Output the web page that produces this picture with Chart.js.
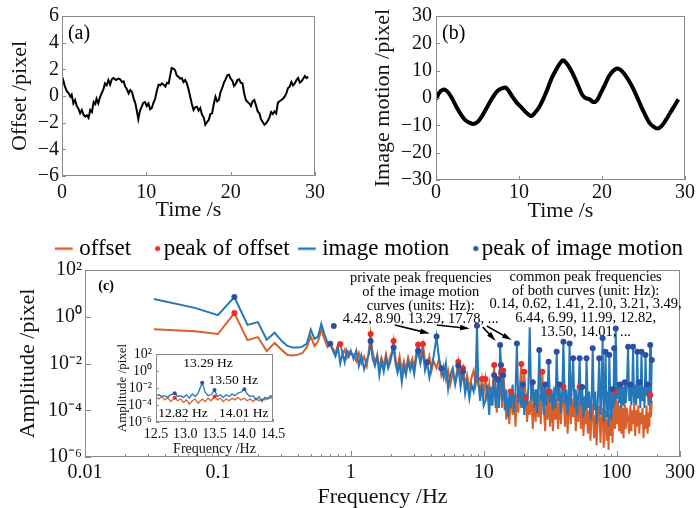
<!DOCTYPE html>
<html>
<head>
<meta charset="utf-8">
<title>Offset / image motion spectra</title>
<script src="https://cdn.jsdelivr.net/npm/chart.js@4.4.1/dist/chart.umd.min.js"></script>
<style>
  html, body { margin: 0; padding: 0; background: #fff; overflow: hidden; }
  #page { position: relative; width: 700px; height: 508px; }
  canvas { position: absolute; }
</style>
</head>
<body>
<div id="page">
  <canvas id="chartA" width="350" height="225" style="left:0;top:0"></canvas>
  <canvas id="chartB" width="350" height="225" style="left:350px;top:0"></canvas>
  <canvas id="chartC" width="700" height="296" style="left:0;top:212px"></canvas>
  <canvas id="chartInset" width="190" height="120" style="left:105px;top:340px"></canvas>
</div>
<script>
// (a) offset vs time
const timeA = [0, 0.15, 0.3, 0.45, 0.6, 0.8, 1.0, 1.15, 1.35, 1.55, 1.75, 1.95, 2.15, 2.35, 2.55, 2.75, 2.95,
  3.15, 3.35, 3.55, 3.75, 3.95, 4.1, 4.3, 4.5, 4.7, 4.9, 5.1, 5.3, 5.5, 5.7, 5.9, 6.1, 6.4, 6.7,
  6.9, 7.1, 7.3, 7.5, 7.7, 7.9, 8.1, 8.3, 8.5, 8.7, 8.9,
  9.05, 9.25, 9.45, 9.65, 9.85, 10.05, 10.25, 10.45, 10.65, 10.85, 11.05, 11.25, 11.45, 11.65, 11.85, 12.05, 12.25, 12.45, 12.65, 12.85,
  13.0, 13.2, 13.4, 13.6, 13.8, 14.0, 14.2, 14.4, 14.6, 14.8, 15.0, 15.2, 15.4, 15.6, 15.8, 16.0, 16.2, 16.4, 16.6, 16.8,
  17.0, 17.2, 17.4, 17.6, 17.8, 18.0, 18.2, 18.4, 18.6, 18.8, 19.0, 19.2, 19.4, 19.6, 19.8, 20.0, 20.2, 20.4, 20.6, 20.8,
  21.0, 21.2, 21.4, 21.6, 21.8, 22.0, 22.2, 22.4, 22.6, 22.8, 23.0, 23.2, 23.4, 23.6, 23.8, 24.0, 24.2, 24.4, 24.6, 24.8,
  25.0, 25.2, 25.4, 25.6, 25.8, 26.0, 26.2, 26.4, 26.6, 26.8, 27.0, 27.2, 27.4, 27.6, 27.8, 28.0, 28.2, 28.4, 28.6, 28.8, 29.0, 29.2];
const offsetA = [1.45, 1.2, 0.8, 0.55, 0.35, 0.2, -0.05, 0.1, -0.55, -0.3, -0.75, -0.95, -1.3, -1.05, -1.4, -1.55, -1.45,
  -1.65, -1.05, -1.2, -0.45, -0.6, -0.2, -0.55, -0.1, 0.2, 0.5, 0.95, 0.8, 1.2, 0.85, 1.25, 1.35, 1.2, 1.3,
  1.25, 1.05, 1.1, 0.7, 0.5, 0.2, 0.45, 0.3, -0.2, -0.55, -1.2,
  -1.75, -1.1, -0.8, -0.5, -0.45, -0.75, -0.55, -1.0, -0.9, -0.5, -0.2, 0.4, 0.85, 0.8, 0.95, 0.85, 0.7, 1.0, 0.95, 1.6,
  2.1, 2.05, 1.95, 1.55, 1.45, 1.3, 1.35, 1.05, 1.2, 0.95, 0.5, -0.05, -0.6, -1.05, -0.85, -0.8, -1.1, -0.9, -1.4, -1.6,
  -2.15, -1.95, -1.8, -1.35, -1.3, -0.6, -0.05, -0.4, -0.3, 0.3, 0.6, 1.0, 1.25, 1.55, 1.6, 1.3, 1.15, 0.75, 0.9, 1.2,
  1.25, 1.0, 0.95, 0.2, -0.3, -0.45, -0.55, -0.75, -0.4, -0.3, -0.7, -1.15, -1.3, -1.75, -1.95, -2.15, -2.05, -1.85, -1.6, -1.2,
  -1.35, -1.15, -1.3, -0.5, -0.4, -0.3, -0.2, -0.05, 0.2, 0.6, 0.7, 1.05, 0.8, 0.95, 1.2, 1.35, 1.0, 1.1, 1.3, 1.5, 1.35, 1.45];

// (b) image motion vs time
const timeB = [0.0, 0.4, 0.8, 1.2, 1.6, 2.0, 2.5, 3.0, 3.5, 4.0, 4.5, 5.0, 5.5, 6.0, 6.5, 7.0, 7.5, 8.0, 8.4, 8.8,
  9.2, 9.7, 10.2, 10.7, 11.2, 11.5, 11.9, 12.4, 12.9, 13.4, 13.9, 14.4, 14.9, 15.3, 15.7, 16.2, 16.7, 17.2, 17.6, 18.0,
  18.5, 19.0, 19.4, 19.8, 20.3, 20.8, 21.3, 21.8, 22.2, 22.7, 23.2, 23.7, 24.2, 24.7, 25.2, 25.7, 26.2, 26.7, 27.2, 27.7,
  28.2, 28.7, 29.2];
const motionB = [-0.5, 2.0, 3.0, 2.8, 1.5, -0.5, -3.5, -6.0, -8.0, -9.0, -9.5, -8.8, -6.8, -4.2, -1.5, 1.0, 2.8, 3.6, 3.8, 2.4,
  0.5, -1.6, -3.2, -4.8, -6.2, -6.6, -5.5, -3.5, -0.5, 3.0, 7.0, 10.0, 12.5, 13.8, 12.8, 10.5, 7.5, 4.0, 1.3, 0.0,
  -0.5, -1.5, -0.8, 1.5, 4.5, 7.8, 9.8, 10.8, 10.4, 8.8, 6.5, 3.8, 0.5, -3.0, -6.2, -9.0, -10.5, -11.2, -10.2, -8.0,
  -5.5, -3.0, -0.5];

// (c) amplitude spectra, amplitudes stored as log10(pixel)
const freqLow = [0.033, 0.067, 0.1, 0.133, 0.167, 0.2, 0.233, 0.267, 0.3, 0.333, 0.367, 0.4, 0.433, 0.467, 0.5,
  0.533, 0.567, 0.6, 0.633, 0.667, 0.7, 0.733, 0.767, 0.8, 0.833, 0.867, 0.9, 0.933, 0.967, 1.0];
const offsetLow = [-0.53, -0.62, -0.74, 0.16, -1.0, -0.87, -1.47, -1.12, -1.4, -1.64, -1.66, -1.62, -1.55, -1.3, -0.85,
  -1.25, -1.05, -0.55, -0.95, -1.3, -1.2, -1.35, -1.55, -1.2, -1.17, -1.6, -1.4, -1.75, -1.5, -1.6];
const motionLow = [0.76, 0.38, 0.07, 0.84, -0.35, -0.23, -0.98, -0.68, -1.02, -1.25, -1.32, -1.32, -1.28, -1.15, -0.55,
  -0.95, -0.85, -0.3, -0.75, -1.1, -1.15, -1.45, -1.7, -1.3, -2.0, -1.55, -1.95, -1.45, -1.7, -1.45];

const freqMid = [1.05, 1.1, 1.15, 1.2, 1.26, 1.32, 1.37, 1.41, 1.46, 1.52, 1.58, 1.64, 1.7, 1.77, 1.84, 1.91, 1.98, 2.04,
  2.1, 2.17, 2.25, 2.33, 2.42, 2.51, 2.6, 2.7, 2.8, 2.9, 3.0, 3.1, 3.21, 3.34, 3.49, 3.62, 3.75, 3.9, 4.05, 4.2, 4.42,
  4.6, 4.8, 5.0, 5.2, 5.4, 5.6, 5.85, 6.1, 6.3, 6.44, 6.7, 6.99, 7.25, 7.5, 7.8, 8.1, 8.4, 8.7, 8.9, 9.1, 9.4, 9.7, 10.0];
const offsetMid = [-1.6, -1.9, -1.55, -2.0, -1.7, -2.1, -1.4, -0.74, -1.5, -1.95, -1.7, -2.2, -1.75, -2.1, -1.6, -2.05, -1.7, -1.5,
  -1.04, -1.8, -2.2, -1.7, -2.3, -1.9, -2.25, -1.75, -2.1, -1.8, -2.2, -1.6, -1.2, -1.7, -1.17, -1.9, -2.1, -1.7, -2.3, -1.9, -2.2,
  -1.8, -2.5, -2.1, -2.7, -2.3, -2.9, -2.4, -2.8, -2.3, -1.94, -2.7, -2.2, -2.9, -2.5, -3.1, -2.6, -2.3, -2.9, -2.5, -2.9, -3.2, -2.66, -3.3];
const motionMid = [-1.8, -1.45, -2.1, -1.65, -2.25, -1.85, -1.6, -1.04, -1.8, -2.1, -1.65, -2.5, -1.9, -2.35, -1.75, -2.2, -1.95, -1.6,
  -1.32, -2.0, -2.4, -1.95, -2.8, -2.1, -2.5, -1.9, -2.3, -2.0, -2.45, -1.8, -1.45, -2.0, -1.5, -2.3, -1.95, -2.6, -2.1, -1.7, -0.85,
  -1.75, -2.2, -2.6, -2.0, -3.1, -2.5, -2.2, -2.9, -2.5, -2.1, -3.0, -2.35, -3.3, -2.8, -3.5, -2.9, -3.2, -2.6, -0.38, -2.7, -3.6, -2.9, -3.8];

const freqHigh = [10.3, 10.65, 11.0, 11.3, 11.65, 11.99, 12.3, 12.55, 12.82, 13.05, 13.29, 13.5, 13.75, 14.01, 14.4, 14.8,
  15.2, 15.6, 16.0, 16.5, 16.9, 17.35, 17.78, 18.2, 18.7, 19.2, 19.7, 20.2, 20.7, 21.2, 21.7, 22.2, 22.8, 23.4, 24.0, 24.6,
  25.2, 25.7, 26.2, 26.9, 27.6, 28.3, 29.0, 29.7, 30.2, 30.8, 31.6, 32.4, 33.2, 34.0, 34.7, 35.4, 36.3, 37.2, 38.1, 39.0,
  39.8, 40.8, 41.8, 42.8, 43.6, 44.3, 45.2, 46.1, 47.1, 48.2, 49.3, 50.4, 51.5, 52.7, 53.9, 55.1, 56.3, 57.6, 58.5, 59.4,
  60.8, 62.2, 63.6, 65.0, 66.1, 67.6, 69.1, 70.7, 72.3, 74.0, 75.6, 77.0, 78.5, 80.0, 81.3, 82.6, 84.2, 85.8, 87.0, 88.1,
  89.8, 91.5, 93.2, 94.6, 95.9, 97.2, 98.5, 100.4, 102.4, 104.4, 106.4, 108.5, 110.6, 112.8, 115.0, 117.2, 119.5, 122.0,
  124.4, 126.8, 129.2, 131.0, 133.0, 135.5, 138.0, 140.5, 143.0, 145.6, 148.2, 150.9, 154.0, 156.7, 159.5, 162.3, 165.0,
  168.0, 171.0, 174.0, 176.5, 179.0, 181.5, 184.0];
const offsetHigh = [-2.66, -3.4, -2.9, -3.8, -3.1, -2.06, -3.5, -4.1, -2.66, -3.6, -3.2, -2.4, -3.9, -2.3, -3.3, -4.4,
  -3.5, -4.6, -3.2, -4.2, -3.4, -4.7, -3.3, -4.1, -3.0, -2.02, -3.9, -2.35, -3.47, -4.5, -3.6, -4.2, -3.2, -4.8, -3.4, -4.5,
  -3.1, -4.3, -3.3, -4.6, -2.35, -3.8, -4.9, -3.5, -4.4, -3.2, -4.7, -3.6, -4.9, -3.3, -4.4, -3.5, -4.8, -3.4, -4.6, -3.6,
  -3.0, -4.7, -3.5, -5.0, -3.8, -3.4, -4.6, -3.5, -4.3, -3.6, -4.9, -3.7, -4.5, -3.0, -4.8, -3.7, -5.1, -3.9, -4.6, -3.6,
  -5.0, -4.0, -5.3, -4.1, -3.7, -5.2, -4.2, -5.5, -4.3, -3.8, -5.4, -4.4, -3.9, -5.6, -4.5, -4.0, -5.3, -4.4, -5.7, -4.1,
  -5.1, -4.2, -5.4, -3.9, -3.2, -4.8, -2.9, -4.6, -3.6, -4.9, -3.8, -5.0, -3.9, -5.2, -3.7, -4.8, -3.9, -4.4,
  -5.0, -3.8, -4.9, -4.0, -4.6, -3.7, -5.1, -4.0, -4.7, -3.8, -5.0, -4.1, -4.6, -3.9, -5.2, -4.2, -4.8,
  -3.8, -5.0, -4.1, -4.7, -3.35, -4.3, -3.6];
const motionHigh = [-3.6, -2.9, -4.2, -3.0, -3.8, -2.5, -3.9, -3.2, -2.7, -3.9, -1.21, -2.06, -3.6, -2.5, -4.0, -3.1,
  -4.3, -3.3, -3.9, -2.9, -4.1, -3.2, -1.14, -3.7, -3.0, -3.9, -2.9, -4.2, -3.3, -3.8, -3.0, -0.45, -3.6, -2.8, -3.9, -3.1,
  -4.1, -3.2, -1.42, -3.6, -3.0, -4.2, -2.9, -3.8, -3.3, -1.92, -3.7, -3.1, -4.0, -3.0, -3.9, -1.5, -3.6, -2.9, -4.1, -3.2,
  -1.07, -3.7, -3.1, -4.2, -3.3, -1.14, -3.8, -3.0, -1.78, -3.9, -3.1, -4.2, -3.3, -1.78, -3.8, -3.0, -4.3, -3.4, -4.0, -1.78,
  -3.9, -3.2, -4.4, -3.4, -1.35, -4.0, -3.2, -4.6, -3.5, -1.78, -4.2, -3.3, -0.92, -4.5, -3.4, -1.5, -4.3, -3.2, -4.7, -1.64,
  -3.6, -4.4, -3.1, -3.9, -1.35, -3.7, -0.5, -3.5, -2.8, -3.7, -2.9, -3.9, -3.0, -3.8, -2.8, -3.7, -3.0, -1.28,
  -3.6, -2.9, -3.8, -3.1, -1.28, -3.7, -2.9, -3.8, -1.5, -3.5, -2.8, -3.9, -1.5, -3.6, -3.0, -3.9, -1.64,
  -3.4, -2.9, -3.8, -3.1, -1.21, -3.7, -1.85];

const offsetPeakFreq = [0.133, 0.833, 1.41, 2.1, 3.21, 3.49, 6.44, 6.99, 9.7, 10.3, 11.99, 12.82, 13.5, 14.01, 16.0,
  19.2, 20.2, 20.7, 27.6, 30.8, 39.8, 52.7, 95.9, 179.0];
const offsetPeakAmp = [0.16, -1.17, -0.74, -1.04, -1.2, -1.17, -1.94, -2.2, -2.66, -2.66, -2.06, -2.66, -2.4, -2.3, -3.2,
  -2.02, -2.35, -3.47, -2.35, -3.2, -3.0, -3.0, -3.2, -3.35];
const motionPeakFreq = [0.133, 0.7, 0.745, 1.41, 2.1, 3.21, 3.75, 4.42, 4.8, 6.44, 6.99, 8.9, 11.99, 12.82, 13.29, 13.5,
  14.01, 17.78, 19.7, 23.4, 26.2, 29.0, 30.8, 35.4, 37.2, 39.8, 44.3, 47.1, 52.7, 55.1, 59.4, 66.1, 74.0, 78.5, 82.6,
  88.1, 93.2, 95.9, 98.5, 106.4, 115.0, 122.0, 126.8, 133.0, 143.0, 148.2, 154.0, 165.0, 171.0, 179.0, 184.0];
const motionPeakAmp = [0.84, -1.15, -0.4, -1.04, -1.32, -1.45, -1.95, -0.85, -2.2, -2.1, -2.35, -0.38, -2.5, -2.7, -1.21, -2.06,
  -2.5, -1.14, -2.9, -2.8, -1.42, -2.9, -1.92, -1.5, -2.9, -1.07, -1.14, -1.78, -1.78, -3.0, -1.78, -1.35, -1.78, -0.92, -1.5,
  -1.64, -3.1, -1.35, -0.5, -2.9, -2.8, -1.28, -2.9, -1.28, -1.5, -2.8, -1.5, -1.64, -2.9, -1.21, -1.85];

const specTicks = [0.01, 0.02, 0.03, 0.04, 0.05, 0.06, 0.07, 0.08, 0.09, 0.1, 0.2, 0.3, 0.4, 0.5, 0.6, 0.7, 0.8, 0.9,
  1, 2, 3, 4, 5, 6, 7, 8, 9, 10, 20, 30, 40, 50, 60, 70, 80, 90, 100, 200, 300];
const specTickLabels = [0.01, 0.1, 1, 10, 100, 300];
const ampTicks = [1e-6, 1e-4, 1e-2, 1, 1e2];
const ampTickText = ['10\u207B\u2076', '10\u207B\u2074', '10\u207B\u00B2', '10\u2070', '10\u00B2'];

// inset 12.5-14.5 Hz
const insetFreq = [12.5, 12.55, 12.6, 12.65, 12.7, 12.75, 12.82, 12.87, 12.92, 12.97, 13.02, 13.07, 13.12, 13.17, 13.22,
  13.29, 13.34, 13.39, 13.44, 13.5, 13.55, 13.6, 13.65, 13.7, 13.75, 13.8, 13.85, 13.9, 13.95, 14.01, 14.06, 14.11, 14.16,
  14.21, 14.26, 14.31, 14.36, 14.41, 14.46, 14.5];
const insetOffset = [-3.1, -3.3, -3.0, -3.4, -3.1, -3.6, -3.14, -3.5, -3.3, -3.7, -3.4, -3.9, -3.5, -3.3, -3.8,
  -3.3, -3.6, -3.2, -3.5, -3.0, -3.4, -3.2, -3.6, -3.3, -3.5, -3.2, -3.4, -3.1, -3.4, -3.2, -3.5, -3.3, -3.6,
  -3.2, -3.5, -3.3, -3.4, -3.1, -3.2, -3.0];
const insetMotion = [-2.9, -2.8, -3.0, -2.9, -3.1, -2.8, -2.62, -3.0, -2.9, -3.1, -2.8, -3.2, -2.7, -3.0, -2.6,
  -1.37, -2.5, -2.9, -2.8, -2.24, -3.0, -2.8, -3.1, -2.8, -3.0, -2.7, -2.9, -2.6, -2.5, -2.15, -2.7, -3.0, -2.9,
  -3.4, -3.0, -3.6, -3.1, -3.3, -2.9, -3.1];
const insetOffsetPeakFreq = [12.82, 13.5];
const insetOffsetPeakAmp = [-3.14, -3.0];
const insetMotionPeakFreq = [12.82, 13.29, 13.5, 14.01];
const insetMotionPeakAmp = [-2.62, -1.37, -2.24, -2.15];

const ORANGE = '#d9602b';
const BLUE = '#2677b8';
const RED = '#ec2b2b';
const NAVY = '#2c4fa6';
const SERIF = "'Liberation Serif', 'Times New Roman', serif";

Chart.defaults.font.family = SERIF;
Chart.defaults.color = '#111';

const pts = (xs, ys) => xs.map((x, i) => ({ x, y: ys[i] }));
const logPts = (xs, ls) => xs.map((x, i) => ({ x, y: Math.pow(10, ls[i]) }));
const minus = v => String(v).replace('-', '\u2212');

// pin the plot area so each panel lands where the figure has it
const fixY = (width, top) => s => { s.width = width; s.paddingTop = top; s.paddingBottom = 0; };
const fixX = (height, right) => s => { s.height = height; s.paddingRight = right; s.paddingLeft = 0; };

// grey box round the plot area plus short inward tick marks
const framePlugin = {
  id: 'frame',
  beforeDatasetsDraw(chart, args, opts) {
    if (!opts.fill) return;
    const { ctx, chartArea: a } = chart;
    ctx.save();
    ctx.fillStyle = opts.fill;
    ctx.fillRect(a.left, a.top, a.width, a.height);
    ctx.restore();
  },
  afterDatasetsDraw(chart, args, opts) {
    const { ctx, chartArea: a } = chart;
    ctx.save();
    ctx.strokeStyle = opts.color || '#888';
    ctx.lineWidth = 1;
    ['x', 'y'].forEach(id => {
      const s = chart.scales[id];
      s.ticks.forEach(t => {
        const p = Math.round(s.getPixelForValue(t.value)) + 0.5;
        const len = t.label ? opts.major : opts.minor;
        ctx.beginPath();
        if (id === 'x') { ctx.moveTo(p, a.bottom); ctx.lineTo(p, a.bottom - len); }
        else { ctx.moveTo(a.left, p); ctx.lineTo(a.left + len, p); }
        ctx.stroke();
      });
    });
    ctx.strokeRect(Math.round(a.left) + 0.5, Math.round(a.top) + 0.5, Math.round(a.width) - 1, Math.round(a.height) - 1);
    ctx.restore();
  }
};

// text and arrows placed in data coordinates
const notesPlugin = {
  id: 'notes',
  afterDatasetsDraw(chart, args, opts) {
    const { ctx } = chart;
    const xs = chart.scales.x, ys = chart.scales.y;
    ctx.save();
    (opts.arrows || []).forEach(ar => {
      const x0 = xs.getPixelForValue(ar.from[0]), y0 = ys.getPixelForValue(ar.from[1]);
      const x1 = xs.getPixelForValue(ar.to[0]), y1 = ys.getPixelForValue(ar.to[1]);
      const ang = Math.atan2(y1 - y0, x1 - x0), head = 10;
      ctx.strokeStyle = '#000';
      ctx.fillStyle = '#000';
      ctx.lineWidth = 1.6;
      ctx.beginPath();
      ctx.moveTo(x0, y0);
      ctx.lineTo(x1 - head * 0.8 * Math.cos(ang), y1 - head * 0.8 * Math.sin(ang));
      ctx.stroke();
      ctx.beginPath();
      ctx.moveTo(x1, y1);
      ctx.lineTo(x1 - head * Math.cos(ang - 0.28), y1 - head * Math.sin(ang - 0.28));
      ctx.lineTo(x1 - head * Math.cos(ang + 0.28), y1 - head * Math.sin(ang + 0.28));
      ctx.closePath();
      ctx.fill();
    });
    (opts.texts || []).forEach(t => {
      ctx.font = t.font;
      ctx.fillStyle = '#000';
      ctx.textAlign = t.align || 'center';
      ctx.textBaseline = 'middle';
      const x = xs.getPixelForValue(t.x), y = ys.getPixelForValue(t.y);
      t.lines.forEach((line, i) => ctx.fillText(line, x, y + i * (t.gap || 0)));
    });
    ctx.restore();
  }
};

const noGrid = { display: false, drawTicks: false };
const noBorder = { display: false };

// ---- (a) ----
new Chart(document.getElementById('chartA'), {
  type: 'scatter',
  data: { datasets: [{ data: pts(timeA, offsetA), showLine: true, borderColor: '#000', borderWidth: 2, pointRadius: 0 }] },
  options: {
    responsive: false, animation: false, layout: { padding: 0 },
    plugins: {
      legend: { display: false }, tooltip: { enabled: false },
      frame: { color: '#8a8a8a', major: 4, minor: 2 },
      notes: { texts: [{ lines: ['(a)'], x: 0.7, y: 4.65, font: '20px ' + SERIF, align: 'left' }] }
    },
    scales: {
      x: {
        type: 'linear', min: 0, max: 30, afterFit: fixX(49, 35), grid: noGrid, border: noBorder,
        ticks: { stepSize: 10, padding: 5, maxRotation: 0, autoSkip: false, font: { size: 20 } },
        title: { display: true, text: 'Time /s', font: { size: 22 }, padding: { top: 0, bottom: 2 } }
      },
      y: {
        min: -6, max: 6, afterFit: fixY(62, 16), grid: noGrid, border: noBorder,
        ticks: { stepSize: 2, padding: 3, autoSkip: false, font: { size: 20 }, callback: minus },
        title: { display: true, text: 'Offset /pixel', font: { size: 22 }, padding: { top: 7, bottom: 0 } }
      }
    }
  },
  plugins: [framePlugin, notesPlugin]
});

// ---- (b) ----
new Chart(document.getElementById('chartB'), {
  type: 'scatter',
  data: { datasets: [{ data: pts(timeB, motionB), showLine: true, borderColor: '#000', borderWidth: 4, pointRadius: 0, tension: 0.3 }] },
  options: {
    responsive: false, animation: false, layout: { padding: 0 },
    plugins: {
      legend: { display: false }, tooltip: { enabled: false },
      frame: { color: '#8a8a8a', major: 4, minor: 2 },
      notes: { texts: [{ lines: ['(b)'], x: 0.72, y: 23.4, font: '20px ' + SERIF, align: 'left' }] }
    },
    scales: {
      x: {
        type: 'linear', min: 0, max: 30, afterFit: fixX(45, 15), grid: noGrid, border: noBorder,
        ticks: { stepSize: 10, padding: 1, maxRotation: 0, autoSkip: false, font: { size: 20 } },
        title: { display: true, text: 'Time /s', font: { size: 22 }, padding: { top: 0, bottom: 1 } }
      },
      y: {
        min: -30, max: 30, afterFit: fixY(86, 16), grid: noGrid, border: noBorder,
        ticks: { stepSize: 10, padding: 4, autoSkip: false, font: { size: 20 }, callback: minus },
        title: { display: true, text: 'Image motion /pixel', font: { size: 22 }, padding: { top: 20, bottom: 0 } }
      }
    }
  },
  plugins: [framePlugin, notesPlugin]
});

// ---- (c) ----
function legendMark(kind, color) {
  const c = document.createElement('canvas');
  c.width = 22; c.height = 8;
  const g = c.getContext('2d');
  g.fillStyle = color;
  if (kind === 'line') {
    g.fillRect(0, 3, 18, 2.4);
  } else {
    g.beginPath();
    g.arc(18.5, 4, 2.6, 0, Math.PI * 2);
    g.fill();
  }
  return c;
}
const legendItems = [
  { text: 'offset', pointStyle: legendMark('line', ORANGE), datasetIndex: 0 },
  { text: 'peak of offset', pointStyle: legendMark('dot', RED), datasetIndex: 2 },
  { text: 'image motion', pointStyle: legendMark('line', BLUE), datasetIndex: 1 },
  { text: 'peak of image motion', pointStyle: legendMark('dot', NAVY), datasetIndex: 3 }
].map(it => Object.assign({ fillStyle: '#000', strokeStyle: '#000', lineWidth: 0, hidden: false, rotation: 0, fontColor: '#000' }, it));

const specFreq = freqLow.concat(freqMid, freqHigh);
const specOffset = offsetLow.concat(offsetMid, offsetHigh);
const specMotion = motionLow.concat(motionMid, motionHigh);

new Chart(document.getElementById('chartC'), {
  type: 'scatter',
  data: {
    datasets: [
      { label: 'offset', data: logPts(specFreq, specOffset), showLine: true, borderColor: ORANGE, borderWidth: 2, pointRadius: 0, order: 3 },
      { label: 'image motion', data: logPts(specFreq, specMotion), showLine: true, borderColor: BLUE, borderWidth: 2, pointRadius: 0, order: 2 },
      { label: 'peak of offset', data: logPts(offsetPeakFreq, offsetPeakAmp), backgroundColor: RED, borderWidth: 0, pointRadius: 3, order: 1 },
      { label: 'peak of image motion', data: logPts(motionPeakFreq, motionPeakAmp), backgroundColor: NAVY, borderWidth: 0, pointRadius: 3, order: 0 }
    ]
  },
  options: {
    responsive: false, animation: false, layout: { padding: 0 },
    plugins: {
      legend: {
        display: true, position: 'top', align: 'end',
        labels: { usePointStyle: true, boxWidth: 4, padding: 17, color: '#000', font: { size: 23 }, generateLabels: () => legendItems }
      },
      tooltip: { enabled: false },
      frame: { color: '#8a8a8a', major: 6, minor: 3 },
      notes: {
        texts: [
          { lines: ['(c)'], x: 0.0144, y: Math.pow(10, 1.31), font: 'bold 14px ' + SERIF },
          { lines: ['private peak frequencies', 'of the image motion', 'curves (units: Hz):', '4.42, 8.90, 13.29, 17.78, ...'],
            x: 3.36, y: Math.pow(10, 1.654), gap: 13.8, font: '14.5px ' + SERIF },
          { lines: ['common peak frequencies', 'of both curves (unit: Hz):', '0.14, 0.62, 1.41, 2.10, 3.21, 3.49,', '6.44, 6.99, 11.99, 12.82,', '13.50, 14.01, ...'],
            x: 58.5, y: Math.pow(10, 1.697), gap: 13.8, font: '14.5px ' + SERIF }
        ],
        arrows: [
          { from: [2.142, Math.pow(10, -0.355)], to: [3.927, Math.pow(10, -0.718)] },
          { from: [4.433, Math.pow(10, -0.355)], to: [7.848, Math.pow(10, -0.504)] },
          { from: [9.83, Math.pow(10, -0.44)], to: [12.31, Math.pow(10, -1.038)] },
          { from: [10.53, Math.pow(10, -0.397)], to: [16.24, Math.pow(10, -0.996)] }
        ]
      }
    },
    scales: {
      x: {
        type: 'logarithmic', min: 0.01, max: 300, afterFit: fixX(51, 20), grid: noGrid, border: noBorder,
        afterBuildTicks: s => { s.ticks = specTicks.map(v => ({ value: v })); },
        ticks: { autoSkip: false, maxRotation: 0, padding: 4, font: { size: 20 }, callback: v => specTickLabels.includes(v) ? String(v) : '' },
        title: { display: true, text: 'Frequency /Hz', font: { size: 22, lineHeight: 1 }, padding: { top: 0, bottom: 0 } }
      },
      y: {
        type: 'logarithmic', min: 1e-6, max: 1e2, afterFit: fixY(85, 58), grid: noGrid, border: noBorder,
        afterBuildTicks: s => { s.ticks = ampTicks.map(v => ({ value: v })); },
        ticks: { autoSkip: false, padding: 3, font: { size: 20 }, callback: v => ampTickText[ampTicks.indexOf(v)] || '' },
        title: { display: true, text: 'Amplitude /pixel', font: { size: 22 }, padding: { top: 15, bottom: 0 } }
      }
    }
  },
  plugins: [framePlugin, notesPlugin]
});

// ---- inset ----
new Chart(document.getElementById('chartInset'), {
  type: 'scatter',
  data: {
    datasets: [
      { data: logPts(insetFreq, insetOffset), showLine: true, borderColor: ORANGE, borderWidth: 1.3, pointRadius: 0, order: 3 },
      { data: logPts(insetFreq, insetMotion), showLine: true, borderColor: BLUE, borderWidth: 1.3, pointRadius: 0, order: 2 },
      { data: logPts(insetOffsetPeakFreq, insetOffsetPeakAmp), backgroundColor: RED, borderWidth: 0, pointRadius: 2, order: 1 },
      { data: logPts(insetMotionPeakFreq, insetMotionPeakAmp), backgroundColor: NAVY, borderWidth: 0, pointRadius: 2, order: 0 }
    ]
  },
  options: {
    responsive: false, animation: false, layout: { padding: 0 },
    plugins: {
      legend: { display: false }, tooltip: { enabled: false },
      frame: { color: '#8a8a8a', major: 3, minor: 2, fill: '#fff' },
      notes: {
        texts: [
          { lines: ['13.29 Hz'], x: 13.39, y: Math.pow(10, 0.94), font: '13.5px ' + SERIF },
          { lines: ['13.50 Hz'], x: 13.82, y: Math.pow(10, -1.06), font: '13.5px ' + SERIF },
          { lines: ['12.82 Hz'], x: 12.96, y: Math.pow(10, -4.94), font: '13.5px ' + SERIF },
          { lines: ['14.01 Hz'], x: 14.0, y: Math.pow(10, -4.94), font: '13.5px ' + SERIF }
        ]
      }
    },
    scales: {
      x: {
        type: 'linear', min: 12.5, max: 14.5, afterFit: fixX(38, 22), grid: noGrid, border: noBorder,
        ticks: { stepSize: 0.5, padding: 4, maxRotation: 0, autoSkip: false, font: { size: 14 }, callback: v => v.toFixed(1) },
        title: { display: true, text: 'Frequency /Hz', font: { size: 14 }, padding: { top: 0, bottom: 2 } }
      },
      y: {
        type: 'logarithmic', min: 1e-6, max: 1e2, afterFit: fixY(51, 14), grid: noGrid, border: noBorder,
        afterBuildTicks: s => { s.ticks = ampTicks.map(v => ({ value: v })); },
        ticks: { autoSkip: false, padding: 4, font: { size: 14 }, callback: v => ampTickText[ampTicks.indexOf(v)] || '' },
        title: { display: true, text: 'Amplitude /pixel', font: { size: 13 }, padding: { top: 10, bottom: 0 } }
      }
    }
  },
  plugins: [framePlugin, notesPlugin]
});
</script>
</body>
</html>
